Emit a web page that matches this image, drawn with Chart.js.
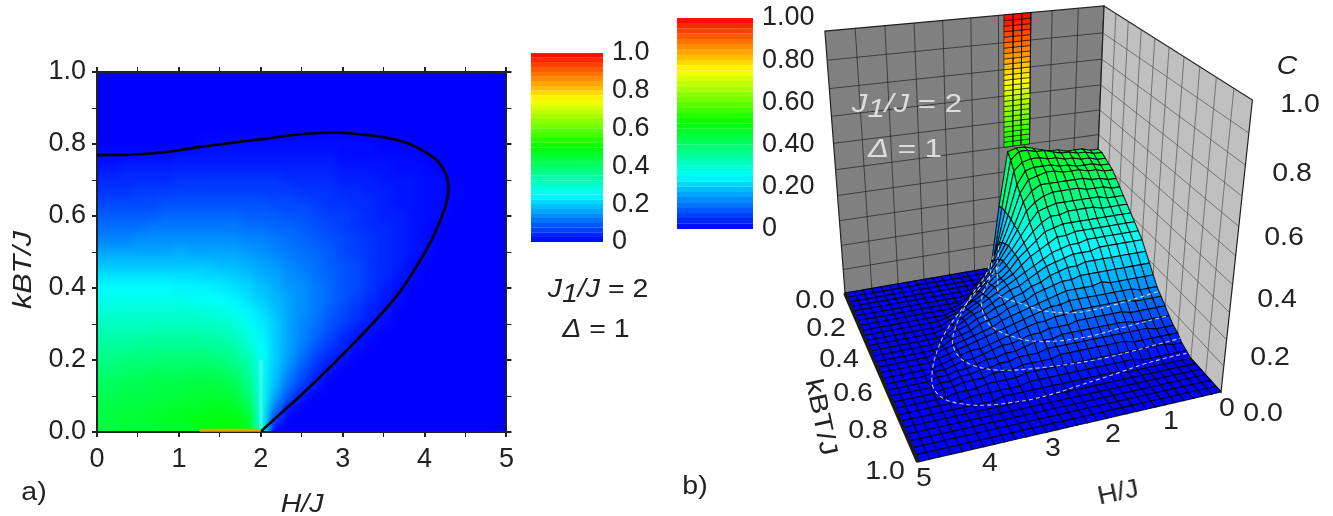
<!DOCTYPE html>
<html>
<head>
<meta charset="utf-8">
<script src="https://cdn.jsdelivr.net/npm/chart.js@4/dist/chart.umd.min.js"></script>
<style>
html, body { margin: 0; background: #fff; }
#page { position: relative; width: 1333px; height: 516px; overflow: hidden; filter: blur(0.45px); font-family: "Liberation Sans", Arial, sans-serif; color: #222; }
canvas { position: absolute; display: block; }
#heatClip { position: absolute; left: 97px; top: 72px; width: 410px; height: 360px; overflow: hidden; }
#heat { filter: blur(4.5px); left: -20.5px; top: -18px; }
.t { position: absolute; white-space: nowrap; font-size: 25px; transform: translate(-50%, -50%) scaleX(1.14); }
.t sub { font-size: 25px; vertical-align: -5px; line-height: 0; }
</style>
</head>
<body>
<div id="page">
  <div id="heatClip"><canvas id="heat" width="451" height="396"></canvas></div>
  <canvas id="axes" width="520" height="516" style="left:0;top:0"></canvas>
  <canvas id="surface" width="533" height="516" style="left:800px;top:0"></canvas>
  <canvas id="barA" width="150" height="280" style="left:520px;top:20px"></canvas>
  <canvas id="barB" width="160" height="280" style="left:670px;top:-20px"></canvas>
</div>
<script>
"use strict";
// node positions of the C(H, T) table
const hNodes = [0,.17,.33,.5,.67,.83,1,1.17,1.33,1.5,1.67,1.83,2,2.17,2.33,2.5,2.67,2.83,3,3.17,3.33,3.5,3.67,3.83,4,4.17,4.33,4.5,4.67,4.83,5];
const tNodes = [0,.033,.067,.1,.133,.167,.2,.233,.267,.3,.333,.367,.4,.433,.467,.5,.533,.567,.6,.633,.667,.7,.733,.767,.8,.833,.867,.9,.933,.967,1];
// C x 100, one row per tNode, missing entries are 0
const cRows = [
  [44,44,45,45,45,46,46,47,48,49,49,48,26],
  [44,44,45,45,46,46,47,48,48,49,49,46,27,5],
  [43,43,44,44,45,45,46,46,47,47,46,43,27,12,2],
  [42,42,43,43,43,44,44,45,45,45,44,39,27,16,8,2],
  [41,41,42,42,43,43,43,44,44,43,42,37,27,18,11,6,2],
  [39,39,40,40,41,41,41,41,41,41,39,35,26,19,13,8,4,1],
  [37,37,38,38,38,39,39,39,39,38,36,33,26,20,15,10,6,3,1],
  [35,35,35,36,36,36,36,36,36,35,34,30,25,20,16,12,8,5,3,1],
  [33,33,33,33,34,34,34,34,33,33,31,28,24,20,16,13,10,7,4,2,1],
  [31,31,31,31,31,31,31,31,31,30,29,26,23,20,16,13,11,8,6,4,2,1],
  [29,29,29,29,29,29,29,29,28,28,26,24,22,19,16,14,12,9,7,5,3,2],
  [27,27,27,27,27,27,27,26,26,25,24,22,20,18,16,14,12,10,8,6,4,2,1],
  [25,25,25,25,25,25,24,24,24,23,22,21,19,17,15,14,12,10,8,7,5,3,1],
  [22,22,22,22,22,22,22,22,21,21,20,19,17,16,14,13,11,10,8,7,5,4,2,1],
  [19,19,19,19,19,19,19,19,19,18,18,17,16,15,13,12,11,9,8,7,5,4,3,1],
  [16,16,16,16,16,16,17,16,16,16,16,15,14,13,12,11,10,9,7,6,5,4,3,2,1],
  [13,13,13,14,14,14,14,14,14,14,14,13,13,12,11,10,9,8,7,6,5,4,3,2,1],
  [11,11,11,11,12,12,12,12,12,12,12,11,11,10,10,9,8,7,6,5,4,4,3,2,1],
  [9,9,9,9,9,10,10,10,10,10,10,9,9,9,8,8,7,6,6,5,4,3,3,2,1,1],
  [7,7,7,7,7,8,8,8,8,8,8,8,8,7,7,7,6,5,5,4,4,3,2,2,1,1],
  [5,5,5,6,6,6,6,6,6,6,6,6,6,6,6,5,5,5,4,4,3,3,2,2,1,1],
  [4,4,4,4,4,4,5,5,5,5,5,5,5,5,4,4,4,4,3,3,3,2,2,2,1,1],
  [2,2,3,3,3,3,3,3,3,3,3,3,3,3,3,3,3,3,2,2,2,2,1,1,1],
  [1,1,1,1,1,1,2,2,2,2,2,2,2,2,2,2,2,2,1,1,1,1,1,1],
  [0,0,0,0,0,0,0,0,1,1,1,1,1,1,1,1,1,1,1,1,1]
];
// black boundary line of panel a
const contourH = [2,2.07,2.48,2.89,3.29,3.5,3.7,3.86,4.02,4.13,4.23,4.28,4.29,4.27,4.17,4.02,3.85,3.7,3.5,3.29,2.93,2.48,2.07,1.67,1.26,.85,.45,0];
const contourT = [0,.016,.1,.19,.283,.335,.39,.445,.505,.555,.61,.65,.675,.71,.75,.776,.797,.809,.819,.825,.832,.827,.815,.804,.792,.778,.771,.769];
// orange strip at T = 0 and the pale streak above H = 2 in panel a
const stripH = [1.25,2];
const stripT = [.005,.005];
const streakH = [2,2];
const streakT = [.01,.2];
// the narrow peak at T = 0 in panel b
const peakH = [1.4,1.57,1.73,1.9];
const peakC = [.5,.52,.54,.56,.58,.6,.62,.64,.66,.68,.7,.72,.74,.76,.78,.8,.82,.84,.86,.88,.9,.92,.94,.96,.98,1];
// white dashed level lines on the surface
const iso3H = [2.25,2.45,2.85,3.2,3.5,3.7,3.67,3.3,2.6,1.5,0];
const iso3T = [.03,.1,.2,.3,.4,.5,.6,.68,.72,.74,.72];
const iso7H = [2.17,2.33,2.55,2.85,3,3,2.67,2.4,2,1.5,1,0];
const iso7T = [.03,.1,.2,.3,.4,.5,.6,.633,.655,.66,.65,.633];
const iso12H = [2.1,2.25,2.4,2.55,2.67,2.67,2.4,2.17,1.67,1,0];
const iso12T = [.05,.13,.2,.3,.37,.4,.47,.53,.58,.58,.55];
// colour scale
const colorStops = [0,.25,.5,.75,1];
const colorReds = [0,0,0,255,255];
const colorGreens = [0,255,255,255,0];
const colorBlues = [255,255,0,0,0];
const barBands = [0,.025,.05,.075,.1,.125,.15,.175,.2,.225,.25,.275,.3,.325,.35,.375,.4,.425,.45,.475,.5,.525,.55,.575,.6,.625,.65,.675,.7,.725,.75,.775,.8,.825,.85,.875,.9,.925,.95,.975];
const barBandSize = .025;
// wall grids and tick labels of panel b
const wallH = [.5,1,1.5,2,2.5,3,3.5,4,4.5];
const wallT = [.1,.2,.3,.4,.5,.6,.7,.8,.9];
const wallC = [.1,.2,.3,.4,.5,.6,.7,.8,.9];
const tickTs = [0,.2,.4,.6,.8,1];
const tickHs = [0,1,2,3,4,5];
const tickCs = [0,.2,.4,.6,.8,1];

const FONT = "'Liberation Sans', Arial, sans-serif";
const INK = '#222';

function rainbow(c) {
    let i = 0;
    while (i < colorStops.length - 2 && c > colorStops[i + 1]) i++;
    const f = (c - colorStops[i]) / (colorStops[i + 1] - colorStops[i]);
    const mix = a => Math.round(a[i] + (a[i + 1] - a[i]) * f);
    return `rgb(${mix(colorReds)},${mix(colorGreens)},${mix(colorBlues)})`;
}
function cAt(k, j) {
    return ((cRows[k] || [])[j] || 0) / 100;
}
function polygon(pts, fill, stroke, width) {
    return {
        data: pts.concat([pts[0]]), showLine: true, pointRadius: 0, tension: 0,
        fill: 'shape', backgroundColor: fill, borderColor: stroke, borderWidth: width
    };
}
function polyline(pts, color, width, extra) {
    return Object.assign({
        data: pts, showLine: true, pointRadius: 0, tension: 0, fill: false,
        borderColor: color, borderWidth: width
    }, extra || {});
}
const bareOptions = {
    responsive: false, animation: false, events: [], parsing: false,
    layout: { padding: 0 },
    plugins: { legend: { display: false }, tooltip: { enabled: false }, filler: { drawTime: 'beforeDatasetDraw' } }
};

// panel a, colour cells (canvas reaches past the plot so the blur has no edge)
const HEAT_H = [-.25, 5.25], HEAT_T = [-.05, 1.05];
const heatSets = [];
tNodes.forEach((t, k) => {
    const y0 = k === 0 ? HEAT_T[0] : (t + tNodes[k - 1]) / 2;
    const y1 = k === tNodes.length - 1 ? HEAT_T[1] : (t + tNodes[k + 1]) / 2;
    hNodes.forEach((h, j) => {
        const x0 = j === 0 ? HEAT_H[0] : (h + hNodes[j - 1]) / 2;
        const x1 = j === hNodes.length - 1 ? HEAT_H[1] : (h + hNodes[j + 1]) / 2;
        const col = rainbow(cAt(k, j));
        heatSets.push(polygon([{x: x0, y: y0}, {x: x1, y: y0}, {x: x1, y: y1}, {x: x0, y: y1}], col, col, 1));
    });
});
new Chart(document.getElementById('heat'), {
    type: 'scatter',
    data: { datasets: heatSets },
    options: Object.assign({}, bareOptions, {
        scales: {
            x: { type: 'linear', display: false, min: HEAT_H[0], max: HEAT_H[1] },
            y: { type: 'linear', display: false, min: HEAT_T[0], max: HEAT_T[1] }
        }
    })
});

// panel a, axes and lines
function frameAxis(pos, min, max, step, size, labelFn) {
    return {
        type: 'linear', position: pos, min, max,
        afterFit: s => { if (s.isHorizontal()) s.height = size; else s.width = size; },
        border: { color: INK, width: 2 },
        grid: {
            drawOnChartArea: false, tickLength: 5, tickColor: INK,
            lineWidth: c => Math.abs(c.tick.value / (step * 2) - Math.round(c.tick.value / (step * 2))) < 1e-6 ? 2 : 1
        },
        ticks: {
            stepSize: step, padding: 6, autoSkip: false, maxRotation: 0, color: INK,
            font: { family: FONT, size: 27 },
            callback: labelFn || (() => '')
        }
    };
}
const xLabel = v => Number.isInteger(Math.round(v * 1e6) / 1e6) ? String(Math.round(v)) : '';
const yLabel = v => Math.abs(v * 5 - Math.round(v * 5)) < 1e-6 ? v.toFixed(1) : '';
new Chart(document.getElementById('axes'), {
    type: 'scatter',
    data: { datasets: [
        polyline(stripH.map((h, i) => ({x: h, y: stripT[i]})), '#f0a000', 3),
        polyline(contourH.map((h, i) => ({x: h, y: contourT[i]})), '#000', 2.6, { tension: .3 }),
        polyline(streakH.map((h, i) => ({x: h, y: streakT[i]})), 'rgba(170,255,255,0.35)', 3.5)
    ] },
    options: Object.assign({}, bareOptions, {
        scales: {
            x: frameAxis('bottom', 0, 5, .5, 84, xLabel),
            y: frameAxis('left', 0, 1, .1, 97, yLabel),
            x2: frameAxis('top', 0, 5, .5, 72),
            y2: frameAxis('right', 0, 1, .1, 13)
        }
    })
});

// colour bars
function colorBar(id, top, bottom, width, label) {
    new Chart(document.getElementById(id), {
        type: 'bar',
        data: {
            labels: ['C'],
            datasets: barBands.map(b => ({
                data: [barBandSize], backgroundColor: rainbow(b + barBandSize / 2),
                borderColor: rainbow(b + barBandSize / 2), borderWidth: 0.5,
                barPercentage: 1, categoryPercentage: 1, stack: 's'
            }))
        },
        options: {
            responsive: false, animation: false, events: [],
            layout: { padding: { top: top, bottom: bottom, left: width.left, right: 0 } },
            plugins: { legend: { display: false }, tooltip: { enabled: false } },
            scales: {
                x: { display: false, stacked: true },
                y: {
                    position: 'right', stacked: true, min: 0, max: 1,
                    afterFit: s => { s.width = width.axis; },
                    border: { display: false }, grid: { display: false, drawTicks: false },
                    ticks: { stepSize: .2, padding: width.pad, color: INK, font: { family: FONT, size: 27 }, callback: label }
                }
            }
        }
    });
}
colorBar('barA', 33, 58, { left: 11, axis: 67, pad: 9 }, v => Math.abs(v) < 1e-6 ? '0' : v.toFixed(1));
colorBar('barB', 38, 31, { left: 7, axis: 77, pad: 9 }, v => Math.abs(v) < 1e-6 ? '0' : v.toFixed(2));

// panel b, perspective projection of (H, T, C) onto the scales of a plain chart
const FLOOR = [[1094, 250], [845, 293], [918, 462], [1221, 392]]; // (H0,T0) (H5,T0) (H5,T1) (H0,T1)
const VANISH = [1006, 2391];
const BACK_TOP_Y = 6;
const dx1 = FLOOR[1][0] - FLOOR[2][0], dy1 = FLOOR[1][1] - FLOOR[2][1];
const dx2 = FLOOR[3][0] - FLOOR[2][0], dy2 = FLOOR[3][1] - FLOOR[2][1];
const sx = FLOOR[0][0] - FLOOR[1][0] + FLOOR[2][0] - FLOOR[3][0];
const sy = FLOOR[0][1] - FLOOR[1][1] + FLOOR[2][1] - FLOOR[3][1];
const den = dx1 * dy2 - dy1 * dx2;
const gU = (sx * dy2 - sy * dx2) / den, gV = (dx1 * sy - dy1 * sx) / den;
const lift = (BACK_TOP_Y - FLOOR[0][1]) / (VANISH[1] - BACK_TOP_Y);
function proj(h, t, c) {
    const u = h / 5, v = t;
    const w = 1 + gU * u + gV * v;
    const px = FLOOR[0][0] + (FLOOR[1][0] - FLOOR[0][0] + gU * FLOOR[1][0]) * u + (FLOOR[3][0] - FLOOR[0][0] + gV * FLOOR[3][0]) * v;
    const py = FLOOR[0][1] + (FLOOR[1][1] - FLOOR[0][1] + gU * FLOOR[1][1]) * u + (FLOOR[3][1] - FLOOR[0][1] + gV * FLOOR[3][1]) * v;
    const s = lift * c;
    return { x: (px + s * VANISH[0]) / (w + s), y: (py + s * VANISH[1]) / (w + s) };
}
const sets = [];
const WALL_LINE = 'rgba(30,30,30,0.75)';
const SIDE_LINE = 'rgba(70,70,70,0.7)';
sets.push(polygon([proj(5,0,0), proj(0,0,0), proj(0,0,1), proj(5,0,1)], '#808080', '#222', 1.2));
sets.push(polygon([proj(0,0,0), proj(0,1,0), proj(0,1,1), proj(0,0,1)], '#c0c0c0', '#222', 1.2));
wallH.forEach(h => sets.push(polyline([proj(h,0,0), proj(h,0,1)], WALL_LINE, .9)));
wallC.forEach(c => sets.push(polyline([proj(5,0,c), proj(0,0,c)], WALL_LINE, .9)));
wallT.forEach(t => sets.push(polyline([proj(0,t,0), proj(0,t,1)], SIDE_LINE, .9)));
wallC.forEach(c => sets.push(polyline([proj(0,0,c), proj(0,1,c)], SIDE_LINE, .9)));

// peak column stands on the back row
for (let i = 0; i < peakH.length - 1; i++) {
    for (let n = 0; n < peakC.length - 1; n++) {
        sets.push(polygon([proj(peakH[i],0,peakC[n]), proj(peakH[i+1],0,peakC[n]), proj(peakH[i+1],0,peakC[n+1]), proj(peakH[i],0,peakC[n+1])],
            rainbow((peakC[n] + peakC[n+1]) / 2), 'rgba(0,0,0,0.8)', .7));
    }
}
// surface, far corner first
for (let k = 0; k < tNodes.length - 1; k++) {
    for (let j = 0; j < hNodes.length - 1; j++) {
        const c00 = cAt(k,j), c01 = cAt(k,j+1), c10 = cAt(k+1,j), c11 = cAt(k+1,j+1);
        sets.push(polygon([
            proj(hNodes[j], tNodes[k], c00), proj(hNodes[j+1], tNodes[k], c01),
            proj(hNodes[j+1], tNodes[k+1], c11), proj(hNodes[j], tNodes[k+1], c10)
        ], rainbow((c00 + c01 + c10 + c11) / 4), 'rgba(0,0,0,0.85)', 1.1));
    }
}
const ISO = { borderDash: [4, 3], tension: .35 };
const ISO_COLOR = 'rgba(255,255,255,0.75)';
sets.push(polyline(contourH.map((h, i) => proj(h, contourT[i], 0)), ISO_COLOR, 1.1, ISO));
sets.push(polyline(iso3H.map((h, i) => proj(h, iso3T[i], .03)), ISO_COLOR, 1.1, ISO));
sets.push(polyline(iso7H.map((h, i) => proj(h, iso7T[i], .07)), ISO_COLOR, 1.1, ISO));
sets.push(polyline(iso12H.map((h, i) => proj(h, iso12T[i], .12)), ISO_COLOR, 1.1, ISO));
// thick left floor edge
sets.push(polyline([proj(5,0,0), proj(5,1,0)], '#1a1a1a', 4));
sets.reverse(); // chart.js paints the last dataset first

new Chart(document.getElementById('surface'), {
    type: 'scatter',
    data: { datasets: sets },
    options: Object.assign({}, bareOptions, {
        scales: {
            x: { type: 'linear', display: false, min: 800, max: 1333 },
            y: { type: 'linear', display: false, min: 0, max: 516, reverse: true }
        }
    })
});

// text
const page = document.getElementById('page');
function label(html, x, y, css) {
    const d = document.createElement('div');
    d.className = 't';
    d.innerHTML = html;
    d.style.left = x + 'px';
    d.style.top = y + 'px';
    if (css) d.style.cssText += css;
    page.appendChild(d);
}
label('<i>kBT/J</i>', 22, 270, 'transform:translate(-50%,-50%) rotate(-90deg) scaleX(1.22)');
label('<i>H/J</i>', 302, 503);
label('a)', 34, 491);
label('b)', 695, 485);
label('<i>J<sub>1</sub>/J</i> = 2', 598, 288);
label('<i>Δ</i> = 1', 596, 328);
label('<i>J<sub>1</sub>/J</i> = 2', 907, 103, 'color:#ddd;transform:translate(-50%,-50%) scaleX(1.25)');
label('<i>Δ</i> = 1', 905, 148, 'color:#ddd;transform:translate(-50%,-50%) scaleX(1.25)');
label('<i>C</i>', 1287, 65);
label('kBT/J', 822, 417, 'transform:translate(-50%,-50%) rotate(78deg) scaleX(1.22)');
label('H/J', 1118, 492, 'transform:translate(-50%,-50%) rotate(-12deg) scaleX(1.1)');
tickTs.forEach(t => { const p = proj(5, t, 0); label(t.toFixed(1), p.x - 30 - 3 * t, p.y + 6 + 2 * t); });
tickHs.forEach(h => { const p = proj(h, 1, 0); label(String(h), p.x + 6, p.y + 15); });
tickCs.forEach(c => { const p = proj(0, 1, c); label(c.toFixed(1), p.x + 42 + 6 * c, p.y + 20 - 17 * c); });
</script>
</body>
</html>
